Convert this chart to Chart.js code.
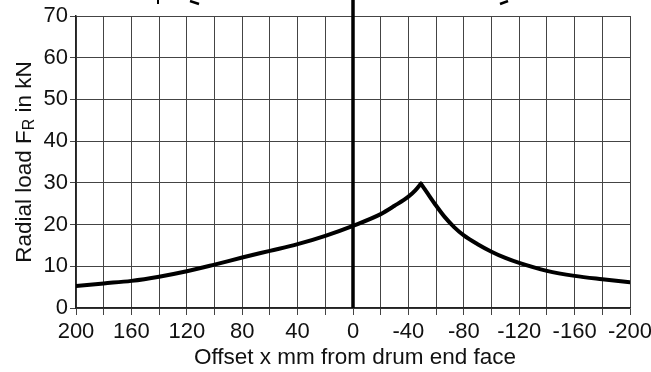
<!DOCTYPE html>
<html>
<head>
<meta charset="utf-8">
<script src="https://cdn.jsdelivr.net/npm/chart.js@4/dist/chart.umd.min.js"></script>
<style>
  html, body { margin: 0; padding: 0; background: #fff; }
  #wrap { width: 651px; height: 372px; position: relative; }
</style>
</head>
<body>
<div id="wrap"><canvas id="c" width="651" height="372"></canvas></div>
<script>
// Data
const offsetX = [200, 180, 160, 140, 120, 100, 80, 60, 40, 20, 0, -20, -30, -40, -45, -49, -54, -59, -66, -73, -80, -90, -100, -110, -120, -140, -160, -180, -200];
const radialLoad = [5.3, 5.9, 6.5, 7.5, 8.8, 10.4, 12.1, 13.7, 15.3, 17.3, 19.7, 22.5, 24.5, 26.7, 28.2, 29.8, 27.4, 25.0, 21.9, 19.4, 17.4, 15.3, 13.5, 12.0, 10.8, 8.9, 7.7, 6.9, 6.2];
const yTicks = [0, 10, 20, 30, 40, 50, 60, 70];
const xLabelStep = 40;
const xTitle = 'Offset x mm from drum end face';
const yTitleParts = ['Radial load F', 'R', ' in kN'];

const FONT = '"Liberation Sans", Arial, Helvetica, sans-serif';

// the curve has a sharp peak: split it there so the smoothing keeps the corner
const points = offsetX.map((x, i) => ({ x: x, y: radialLoad[i] }));
const peakIdx = radialLoad.indexOf(Math.max(...radialLoad));
const leftPart = points.slice(0, peakIdx + 1);
const rightPart = points.slice(peakIdx);

const overlay = {
  id: 'overlay',
  afterDatasetsDraw(chart) {
    const ctx = chart.ctx;
    const xs = chart.scales.x;
    const area = chart.chartArea;
    ctx.save();
    const x0 = xs.getPixelForValue(0);
    ctx.strokeStyle = '#000';
    ctx.lineWidth = 3.5;
    ctx.beginPath();
    ctx.moveTo(x0, 0);
    ctx.lineTo(x0, area.bottom);
    ctx.stroke();
    ctx.lineWidth = 2;
    ctx.beginPath();
    ctx.moveTo(158, 0); ctx.lineTo(158, 4);
    ctx.stroke();
    ctx.lineWidth = 2.5;
    ctx.beginPath();
    ctx.moveTo(190, 1); ctx.lineTo(199, 4);
    ctx.stroke();
    ctx.beginPath();
    ctx.moveTo(500, 4); ctx.lineTo(508, 1);
    ctx.stroke();
    ctx.restore();
  },
  afterDraw(chart) {
    const ctx = chart.ctx;
    const area = chart.chartArea;
    ctx.save();
    ctx.fillStyle = '#111';
    ctx.font = '22.5px ' + FONT;
    ctx.textAlign = 'center';
    ctx.textBaseline = 'middle';
    ctx.fillText(xTitle, 355, 358);
    const big = '22.5px ' + FONT, small = '16px ' + FONT;
    ctx.font = big; const w1 = ctx.measureText(yTitleParts[0]).width;
    ctx.font = small; const w2 = ctx.measureText(yTitleParts[1]).width;
    ctx.font = big; const w3 = ctx.measureText(yTitleParts[2]).width;
    const total = w1 + w2 + w3;
    ctx.translate(31, (area.top + area.bottom) / 2);
    ctx.rotate(-Math.PI / 2);
    ctx.textAlign = 'left';
    ctx.textBaseline = 'alphabetic';
    let sx = -total / 2;
    ctx.font = big; ctx.fillText(yTitleParts[0], sx, 0); sx += w1;
    ctx.font = small; ctx.fillText(yTitleParts[1], sx, 3); sx += w2;
    ctx.font = big; ctx.fillText(yTitleParts[2], sx, 0);
    ctx.restore();
  }
};

const lineStyle = {
  borderColor: '#000',
  borderWidth: 4,
  pointRadius: 0,
  cubicInterpolationMode: 'monotone',
  borderCapStyle: 'round',
  borderJoinStyle: 'round',
  fill: false
};

new Chart(document.getElementById('c'), {
  type: 'line',
  data: {
    datasets: [
      Object.assign({ data: leftPart }, lineStyle),
      Object.assign({ data: rightPart }, lineStyle)
    ]
  },
  options: {
    responsive: false,
    animation: false,
    layout: { padding: { top: 16, right: 21, left: 0, bottom: 0 } },
    plugins: { legend: { display: false }, tooltip: { enabled: false } },
    scales: {
      x: {
        type: 'linear',
        min: -200, max: 200, reverse: true,
        afterFit(s) { s.height = 64; s.paddingLeft = 0; s.paddingRight = 0; },
        ticks: {
          stepSize: 20, autoSkip: false, maxRotation: 0, padding: 4,
          color: '#111', font: { family: FONT, size: 22 },
          callback: v => (v % xLabelStep === 0 ? String(v) : '')
        },
        grid: { color: '#444', lineWidth: 1, tickLength: 7, drawTicks: true },
        border: { color: '#222', width: 1.5 }
      },
      y: {
        min: 0, max: 70,
        afterFit(s) { s.width = 76; s.paddingTop = 0; s.paddingBottom = 0; },
        afterBuildTicks(s) { s.ticks = yTicks.map(v => ({ value: v })); },
        ticks: {
          padding: 2, color: '#111', font: { family: FONT, size: 22 },
          callback: v => String(v)
        },
        grid: { color: '#444', lineWidth: 1, tickLength: 6 },
        border: { color: '#222', width: 1.5 }
      }
    }
  },
  plugins: [overlay]
});
</script>
</body>
</html>
